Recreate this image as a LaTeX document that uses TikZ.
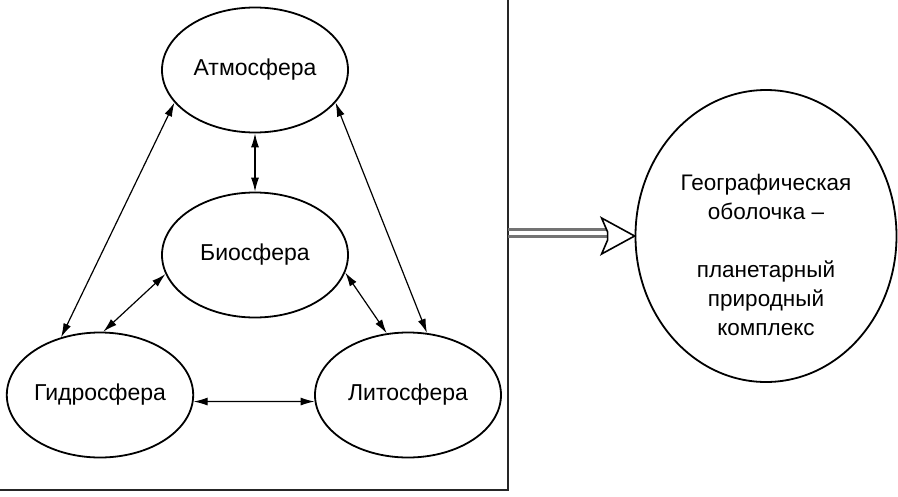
\documentclass[tikz,border=0pt]{standalone}
\usepackage{fontspec}
\setmainfont{Liberation Sans}
\usetikzlibrary{shapes.geometric,arrows.meta}

\begin{document}
\begin{tikzpicture}[x=1pt,y=-1pt,
		sphere/.style={draw, ellipse, line width=1.8pt, minimum width=186pt, minimum height=125pt, inner sep=0pt, font=\fontsize{23}{27}\selectfont},
		link/.style={<->, >={Latex[length=14pt,width=8pt]}, line width=1.2pt}]
	\useasboundingbox (0,0) rectangle (898,496);
	% frame of the four spheres
	\draw[line width=2.8pt, black!85] (508,0) -- (508,490) -- (0,490);
	\node[sphere] (atm) at (255,70) {Атмосфера};
	\node[sphere] (bio) at (255,255) {Биосфера};
	\node[sphere] (hyd) at (100,395) {Гидросфера};
	\node[sphere] (lit) at (408,395) {Литосфера};
	\node[draw, ellipse, line width=1.8pt, minimum width=261pt, minimum height=292pt, inner sep=0pt] (geo) at (766,236) {};
	\node[align=center, font=\fontsize{22.5}{29}\selectfont, yshift=-19pt] (geotxt) at (geo) {Географическая\\оболочка –\\[29pt]планетарный\\природный\\комплекс};
	\draw[link] (atm) -- (bio);
	\draw[link] (atm.202) -- (hyd.124);
	\draw[link] (atm.338) -- (lit.73);
	\draw[link] (bio.192) -- (hyd.87);
	\draw[link] (bio.349) -- (lit.109);
	\draw[link] (hyd.-4) -- (lit.184);
	% big arrow
	\coordinate (fr) at (508,233);
	\coordinate (tip) at (geo.west);
	\draw[line width=3pt, black!55] (fr) ++(0,-3.5) -- ++(100,0) (fr) ++(0,3.5) -- ++(100,0);
	\draw[line width=1.6pt, fill=white] (tip) -- ++(-33,-18) -- ++(6,14) -- ++(0,8) -- ++(-6,14) -- cycle;
\end{tikzpicture}
\end{document}
